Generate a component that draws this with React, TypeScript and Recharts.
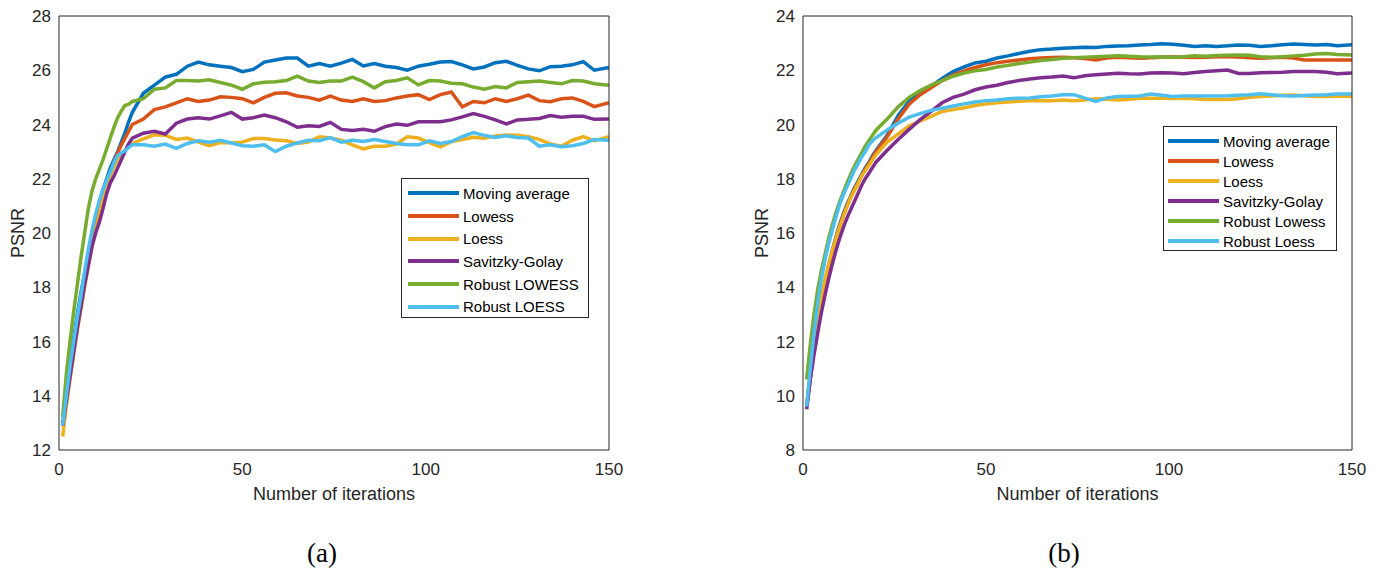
import { LineChart, Line, XAxis, YAxis, Legend } from "recharts";

// iteration index of every sample (dense at the start, every 3rd iteration afterwards)
const ITER = [
  1, 2, 3, 4, 5, 6, 7, 8, 9, 10, 11, 12, 13, 14, 15, 16, 17, 18, 19, 20,
  23, 26, 29, 32, 35, 38, 41, 44, 47, 50,
  53, 56, 59, 62, 65, 68, 71, 74, 77, 80,
  83, 86, 89, 92, 95, 98, 101, 104, 107, 110,
  113, 116, 119, 122, 125, 128, 131, 134, 137, 140,
  143, 146, 150,
];

// panel (a)
const A_MA = [
  12.9, 14.0, 15.1, 16.1, 17.0, 17.8, 18.5, 19.2, 19.9, 20.5, 21.1, 21.6, 22.0, 22.4, 22.7, 23.0, 23.35, 23.7, 24.1, 24.45,
  25.15, 25.45, 25.75, 25.85, 26.15, 26.3, 26.2, 26.15, 26.1, 25.95,
  26.03, 26.3, 26.38, 26.45, 26.45, 26.15, 26.25, 26.15, 26.26, 26.4,
  26.16, 26.25, 26.15, 26.1, 26.0, 26.15, 26.22, 26.3, 26.32, 26.2,
  26.05, 26.12, 26.28, 26.33, 26.18, 26.05, 25.98, 26.13, 26.15, 26.2,
  26.32, 26.0, 26.1,
];
const A_LOWESS = [
  12.9, 13.9, 14.9, 15.8, 16.7, 17.5, 18.3, 19.0, 19.7, 20.3, 20.9, 21.45, 21.9, 22.25, 22.6, 22.95, 23.25, 23.5, 23.75, 24.0,
  24.2, 24.55, 24.65, 24.8, 24.95, 24.85, 24.9, 25.02, 25.0, 24.95,
  24.8, 25.0, 25.15, 25.17, 25.05, 25.0, 24.9, 25.05, 24.9, 24.85,
  24.95, 24.85, 24.88, 24.98, 25.05, 25.1, 24.92, 25.1, 25.2, 24.65,
  24.85, 24.8, 24.95, 24.85, 24.95, 25.08, 24.88, 24.84, 24.95, 24.98,
  24.85, 24.66, 24.8,
];
const A_LOESS = [
  12.5, 13.6, 14.6, 15.5, 16.4, 17.2, 18.0, 18.8, 19.5, 20.1, 20.7, 21.25, 21.75, 22.1, 22.45, 22.7, 22.9, 23.05, 23.2, 23.3,
  23.47, 23.62, 23.6, 23.45, 23.5, 23.35, 23.22, 23.33, 23.33, 23.35,
  23.48, 23.48, 23.43, 23.4, 23.3, 23.35, 23.55, 23.5, 23.42, 23.25,
  23.1, 23.2, 23.2, 23.28, 23.55, 23.5, 23.33, 23.18, 23.37, 23.45,
  23.53, 23.49, 23.58, 23.61, 23.6, 23.55, 23.45, 23.28, 23.2, 23.42,
  23.55, 23.4, 23.55,
];
const A_SG = [
  12.9, 13.8, 14.7, 15.6, 16.5, 17.3, 18.1, 18.8, 19.5, 20.0, 20.4, 20.9, 21.45, 21.85, 22.1, 22.4, 22.7, 23.0, 23.3, 23.5,
  23.68, 23.75, 23.65, 24.05, 24.2, 24.25, 24.2, 24.32, 24.45, 24.2,
  24.25, 24.35, 24.25, 24.1, 23.9, 23.95, 23.93, 24.08, 23.82, 23.78,
  23.82, 23.75, 23.92, 24.02, 23.97, 24.1, 24.1, 24.1, 24.17, 24.28,
  24.4, 24.3, 24.17, 24.02, 24.17, 24.19, 24.22, 24.33, 24.27, 24.3,
  24.3, 24.19, 24.2,
];
const A_RLOWESS = [
  13.2, 14.8, 16.0, 17.1, 18.1, 19.1, 20.0, 20.9, 21.55, 22.0, 22.35, 22.7, 23.1, 23.5, 23.9, 24.25, 24.5, 24.7, 24.75, 24.85,
  24.95, 25.3, 25.35, 25.62, 25.62, 25.6, 25.65, 25.55, 25.45, 25.3,
  25.5, 25.56, 25.58, 25.62, 25.78, 25.6, 25.55, 25.6, 25.6, 25.75,
  25.58, 25.35, 25.58, 25.62, 25.72, 25.46, 25.62, 25.6, 25.52, 25.5,
  25.38, 25.3, 25.4, 25.35, 25.55, 25.58, 25.6, 25.55, 25.5, 25.62,
  25.6, 25.5, 25.45,
];
const A_RLOESS = [
  12.9, 14.0, 15.1, 16.0, 16.9, 17.7, 18.6, 19.4, 20.1, 20.7, 21.2, 21.6, 21.95, 22.25, 22.6, 22.85, 22.95, 23.03, 23.15, 23.25,
  23.25, 23.2, 23.28, 23.12, 23.3, 23.4, 23.35, 23.42, 23.32, 23.22,
  23.2, 23.25, 23.0, 23.2, 23.32, 23.42, 23.4, 23.52, 23.35, 23.42,
  23.37, 23.45, 23.37, 23.3, 23.25, 23.25, 23.4, 23.3, 23.37, 23.55,
  23.7, 23.6, 23.52, 23.58, 23.52, 23.5, 23.2, 23.25, 23.18, 23.22,
  23.3, 23.45, 23.42,
];

// panel (b)
const B_MA = [
  9.6, 10.7, 11.75, 12.65, 13.45, 14.15, 14.8, 15.35, 15.85, 16.3, 16.7, 17.05, 17.35, 17.65, 17.9, 18.15, 18.4, 18.6, 18.85, 19.05,
  19.6, 20.33, 20.86, 21.17, 21.4, 21.7, 21.95, 22.12, 22.27, 22.33,
  22.45, 22.53, 22.62, 22.7, 22.76, 22.78, 22.81, 22.83, 22.85, 22.84,
  22.88, 22.89, 22.9, 22.93, 22.95, 22.98, 22.96, 22.92, 22.88, 22.9,
  22.88, 22.9, 22.93, 22.92, 22.88, 22.9, 22.94, 22.97, 22.95, 22.93,
  22.95, 22.9, 22.94,
];
const B_LOWESS = [
  9.6, 10.65, 11.7, 12.6, 13.4, 14.1, 14.75, 15.3, 15.8, 16.25, 16.65, 17.0, 17.3, 17.6, 17.85, 18.1, 18.35, 18.55, 18.8, 19.0,
  19.55, 20.2, 20.75, 21.1, 21.35, 21.62, 21.82, 21.98, 22.1, 22.2,
  22.28, 22.33, 22.38, 22.42, 22.45, 22.47, 22.48, 22.46, 22.43, 22.38,
  22.45, 22.48, 22.46, 22.44, 22.46, 22.48, 22.5, 22.48, 22.47, 22.48,
  22.5, 22.5, 22.49, 22.46, 22.44, 22.46, 22.48, 22.45, 22.38, 22.38,
  22.38, 22.38, 22.38,
];
const B_LOESS = [
  9.6, 10.9, 12.0, 12.9, 13.65, 14.3, 14.85, 15.35, 15.8, 16.2, 16.6, 16.95, 17.3, 17.55, 17.8, 18.1, 18.3, 18.5, 18.7, 18.9,
  19.35, 19.65, 19.95, 20.12, 20.3, 20.48, 20.55, 20.62, 20.7, 20.76,
  20.8, 20.83, 20.86, 20.88, 20.88, 20.88, 20.9, 20.88, 20.9, 20.95,
  20.93, 20.9, 20.93, 20.97, 20.97, 20.97, 20.96, 20.97, 20.95, 20.92,
  20.92, 20.92, 20.95, 21.0, 21.03, 21.05, 21.08, 21.09, 21.06, 21.03,
  21.03, 21.05, 21.03,
];
const B_SG = [
  9.5, 10.6, 11.5, 12.3, 13.05, 13.7, 14.3, 14.85, 15.35, 15.8, 16.2, 16.55, 16.85, 17.15, 17.45, 17.75, 18.0, 18.2, 18.42, 18.62,
  19.05, 19.45, 19.82, 20.18, 20.48, 20.8, 21.0, 21.12, 21.28, 21.38,
  21.45, 21.55, 21.62, 21.68, 21.72, 21.75, 21.79, 21.72, 21.8, 21.83,
  21.86, 21.89, 21.87, 21.86, 21.9, 21.91, 21.9, 21.87, 21.92, 21.95,
  21.98, 22.01, 21.88, 21.88, 21.91, 21.92, 21.93, 21.95, 21.95, 21.95,
  21.93, 21.87, 21.9,
];
const B_RLOWESS = [
  10.6, 11.9, 13.0, 13.9, 14.6, 15.2, 15.8, 16.3, 16.75, 17.15, 17.5, 17.85, 18.15, 18.45, 18.7, 18.95, 19.2, 19.4, 19.6, 19.8,
  20.2, 20.65, 21.0, 21.25, 21.45, 21.62, 21.78, 21.9, 21.98, 22.03,
  22.12, 22.18, 22.25, 22.3, 22.36, 22.4, 22.44, 22.46, 22.48, 22.5,
  22.52, 22.53, 22.52, 22.5, 22.49, 22.5, 22.48, 22.5, 22.53, 22.52,
  22.54, 22.55, 22.56, 22.55, 22.5, 22.48, 22.5, 22.53, 22.55, 22.6,
  22.62, 22.58, 22.56,
];
const B_RLOESS = [
  9.6, 11.0, 12.3, 13.4, 14.3, 15.0, 15.6, 16.1, 16.6, 17.05, 17.4, 17.7, 18.0, 18.3, 18.55, 18.8, 19.0, 19.25, 19.4, 19.52,
  19.8, 20.05, 20.27, 20.4, 20.52, 20.6, 20.68, 20.76, 20.83, 20.88,
  20.9, 20.95, 20.97, 20.98, 21.02, 21.05, 21.1, 21.1, 20.97, 20.85,
  20.98, 21.03, 21.04, 21.05, 21.12, 21.08, 21.03, 21.05, 21.05, 21.05,
  21.05, 21.06, 21.08, 21.1, 21.13, 21.1, 21.06, 21.05, 21.07, 21.09,
  21.1, 21.12, 21.12,
];

const KEYS = ["ma", "lowess", "loess", "sg", "rlowess", "rloess"];
const COLORS = ["#0072BD", "#D95319", "#EDB120", "#7E2F8E", "#77AC30", "#4DBEEE"];
const NAMES_A = ["Moving average", "Lowess", "Loess", "Savitzky-Golay", "Robust LOWESS", "Robust LOESS"];
const NAMES_B = ["Moving average", "Lowess", "Loess", "Savitzky-Golay", "Robust Lowess", "Robust Loess"];

const X_TICKS = [0, 50, 100, 150];
const Y_TICKS_A = [12, 14, 16, 18, 20, 22, 24, 26, 28];
const Y_TICKS_B = [8, 10, 12, 14, 16, 18, 20, 22, 24];

const AX = "#262626";
const FONT = "'Liberation Sans', Arial, Helvetica, sans-serif";

const toRows = (series: number[][]) =>
  ITER.map((it, i) => {
    const row: Record<string, number> = { it };
    KEYS.forEach((k, j) => (row[k] = series[j][i]));
    return row;
  });

const dataA = toRows([A_MA, A_LOWESS, A_LOESS, A_SG, A_RLOWESS, A_RLOESS]);
const dataB = toRows([B_MA, B_LOWESS, B_LOESS, B_SG, B_RLOWESS, B_RLOESS]);

// legend keeps the plotting order (recharts would sort it by name)
const LegendBox = ({ names, rowH, padTop, lineLeft }: any) => (
  <div
    style={{
      border: `1px solid ${AX}`,
      background: "#fff",
      boxSizing: "border-box",
      width: "100%",
      height: "100%",
      paddingTop: padTop,
      fontFamily: FONT,
    }}
  >
    {names.map((n: string, i: number) => (
      <div key={n} style={{ display: "flex", alignItems: "center", height: rowH }}>
        <div style={{ width: 51, height: 4, background: COLORS[i], marginLeft: lineLeft }} />
        <span style={{ marginLeft: 4, fontSize: 15, color: "#000", whiteSpace: "nowrap" }}>{n}</span>
      </div>
    ))}
  </div>
);

function Panel({ data, names, yDomain, yTicks, width, yAxisW, right, legend }: any) {
  return (
    <LineChart width={width} height={520} data={data} margin={{ top: 16, right, bottom: 20, left: 0 }} style={{ fontFamily: FONT }}>
      <XAxis
        xAxisId="b" dataKey="it" type="number" domain={[0, 150]} allowDataOverflow ticks={X_TICKS}
        tickLine={false} axisLine={{ stroke: AX }} tick={{ fill: AX, fontSize: 17 }} tickMargin={7} height={50}
        label={{ value: "Number of iterations", position: "center", dy: 19, fill: AX, fontSize: 18 }}
      />
      <XAxis
        xAxisId="bm" dataKey="it" type="number" domain={[0, 150]} allowDataOverflow ticks={X_TICKS}
        mirror tick={false} axisLine={false} tickLine={{ stroke: AX }} tickSize={5} height={1}
      />
      <XAxis
        xAxisId="t" orientation="top" dataKey="it" type="number" domain={[0, 150]} allowDataOverflow ticks={X_TICKS}
        mirror tick={false} axisLine={{ stroke: AX }} tickLine={{ stroke: AX }} tickSize={5} height={1}
      />
      <YAxis
        yAxisId="l" type="number" domain={yDomain} allowDataOverflow ticks={yTicks} width={yAxisW}
        tickLine={false} axisLine={{ stroke: AX }} tick={{ fill: AX, fontSize: 17 }}
        label={{ value: "PSNR", angle: -90, position: "center", dx: yAxisW === 59 ? -11.5 : -10, fill: AX, fontSize: 18 }}
      />
      <YAxis
        yAxisId="lm" type="number" domain={yDomain} allowDataOverflow ticks={yTicks}
        mirror tick={false} axisLine={false} tickLine={{ stroke: AX }} tickSize={5} width={1}
      />
      <YAxis
        yAxisId="r" orientation="right" type="number" domain={yDomain} allowDataOverflow ticks={yTicks}
        mirror tick={false} axisLine={{ stroke: AX }} tickLine={{ stroke: AX }} tickSize={5} width={1}
      />
      {KEYS.map((k, i) => (
        <Line
          key={k}
          xAxisId="b"
          yAxisId="l"
          type="linear"
          dataKey={k}
          name={names[i]}
          stroke={COLORS[i]}
          strokeWidth={3.5}
          dot={false}
          isAnimationActive={false}
        />
      ))}
      <Legend
        layout="vertical"
        align="center"
        verticalAlign="middle"
        wrapperStyle={{ left: legend.left, top: legend.top, width: legend.w, height: legend.h, right: "auto", bottom: "auto" }}
        content={() => (
          <LegendBox names={names} rowH={legend.rowH} padTop={legend.padTop} lineLeft={legend.lineLeft} />
        )}
      />
    </LineChart>
  );
}

export default function App() {
  return (
    <div style={{ position: "absolute", left: 0, top: 0, width: 1378, height: 577, background: "#fff", fontFamily: FONT }}>
      <div style={{ position: "absolute", left: 0, top: 0 }}>
        <Panel
          data={dataA} names={NAMES_A} yDomain={[12, 28]} yTicks={Y_TICKS_A} width={640} yAxisW={59} right={31}
          legend={{ left: 401, top: 178, w: 188, h: 140, rowH: 22.7, padTop: 3, lineLeft: 6 }}
        />
      </div>
      <div style={{ position: "absolute", left: 740, top: 0 }}>
        <Panel
          data={dataB} names={NAMES_B} yDomain={[8, 24]} yTicks={Y_TICKS_B} width={638} yAxisW={63} right={26}
          legend={{ left: 423, top: 126, w: 174, h: 125, rowH: 20, padTop: 4, lineLeft: 4 }}
        />
      </div>
      <div style={{ position: "absolute", left: 272, top: 535, width: 100, textAlign: "center", fontFamily: "'Liberation Serif', 'Times New Roman', serif", fontSize: 27, lineHeight: "36px", color: "#000" }}>
        (a)
      </div>
      <div style={{ position: "absolute", left: 1014, top: 535, width: 100, textAlign: "center", fontFamily: "'Liberation Serif', 'Times New Roman', serif", fontSize: 27, lineHeight: "36px", color: "#000" }}>
        (b)
      </div>
    </div>
  );
}
